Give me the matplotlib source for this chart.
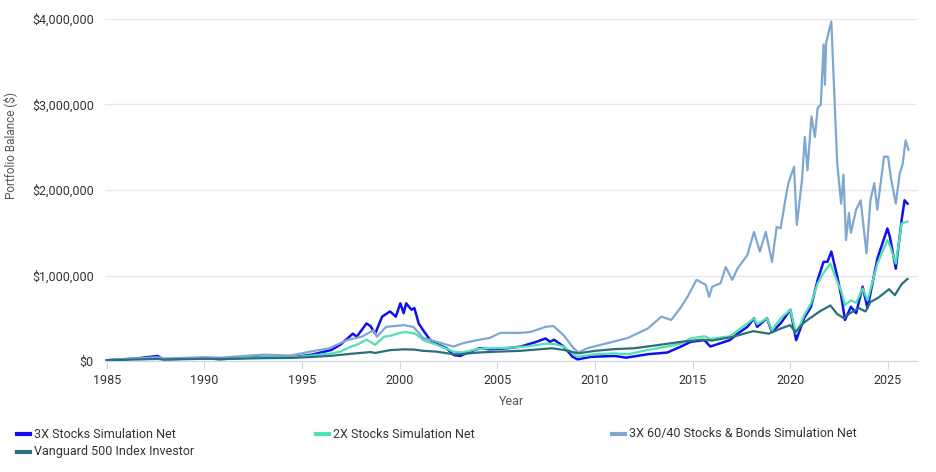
import matplotlib
matplotlib.use("Agg")
import matplotlib.pyplot as plt
from matplotlib.lines import Line2D
from matplotlib.ticker import FuncFormatter
import numpy as np

plt.rcParams['font.family'] = ['Roboto', 'DejaVu Sans']

# values in millions of dollars
x3_years = [1985.0, 1986.5, 1987.6, 1987.9, 1990.0, 1990.8, 1993.0, 1994.5, 1995.5, 1996.5,
            1996.95, 1997.6, 1997.8, 1998.3, 1998.5, 1998.74, 1999.1, 1999.5, 1999.8, 2000.03,
            2000.2, 2000.33, 2000.6, 2000.75, 2000.97, 2001.2, 2001.56, 2001.9, 2002.4, 2002.76,
            2003.1, 2003.6, 2004.1, 2004.6, 2005.5, 2006.2, 2007.0, 2007.46, 2007.7, 2007.9,
            2008.4, 2008.85, 2009.1, 2009.8, 2011.0, 2011.6, 2012.7, 2013.7, 2014.4, 2014.9,
            2015.6, 2015.9, 2016.3, 2016.9, 2017.3, 2017.8, 2018.14, 2018.3, 2018.8, 2019.06,
            2019.5, 2020.0, 2020.3, 2020.7, 2021.06, 2021.4, 2021.7, 2021.9, 2022.1, 2022.4,
            2022.6, 2022.8, 2023.1, 2023.37, 2023.7, 2023.95, 2024.46, 2024.97, 2025.1, 2025.4,
            2025.7, 2025.85, 2026.0]
x3_vals = [0.010, 0.03, 0.06, 0.02, 0.035, 0.022, 0.05, 0.045, 0.075, 0.13,
           0.19, 0.32, 0.285, 0.44, 0.41, 0.32, 0.52, 0.58, 0.52, 0.675,
           0.56, 0.675, 0.60, 0.62, 0.44, 0.36, 0.245, 0.20, 0.15, 0.07,
           0.06, 0.11, 0.15, 0.137, 0.15, 0.17, 0.225, 0.265, 0.225, 0.25,
           0.17, 0.05, 0.02, 0.05, 0.06, 0.04, 0.08, 0.10, 0.17, 0.225,
           0.245, 0.17, 0.20, 0.245, 0.32, 0.40, 0.50, 0.40, 0.50, 0.34,
           0.44, 0.60, 0.245, 0.50, 0.635, 0.95, 1.16, 1.16, 1.28, 0.99,
           0.77, 0.48, 0.635, 0.56, 0.87, 0.62, 1.20, 1.55, 1.45, 1.08,
           1.65, 1.88, 1.84]

x2_years = [1985.0, 1987.6, 1987.9, 1990.0, 1990.8, 1993.0, 1994.5, 1995.5, 1996.5, 1996.95,
            1997.5, 1997.8, 1998.3, 1998.74, 1999.2, 1999.6, 2000.0, 2000.3, 2000.8, 2001.2,
            2001.9, 2002.76, 2003.2, 2004.0, 2004.6, 2005.5, 2006.5, 2007.5, 2007.9, 2008.4,
            2009.1, 2010.0, 2011.0, 2011.7, 2012.7, 2013.7, 2014.4, 2014.9, 2015.6, 2015.9,
            2016.9, 2017.8, 2018.14, 2018.3, 2018.8, 2019.06, 2019.5, 2020.0, 2020.3, 2020.7,
            2021.06, 2021.4, 2021.7, 2022.05, 2022.4, 2022.6, 2022.8, 2023.1, 2023.37, 2023.7,
            2023.95, 2024.46, 2024.97, 2025.1, 2025.4, 2025.7, 2026.0]
x2_vals = [0.010, 0.04, 0.02, 0.03, 0.025, 0.045, 0.045, 0.065, 0.09, 0.11,
           0.17, 0.19, 0.25, 0.19, 0.285, 0.30, 0.33, 0.34, 0.32, 0.245,
           0.19, 0.11, 0.10, 0.14, 0.15, 0.155, 0.17, 0.205, 0.20, 0.17,
           0.05, 0.08, 0.09, 0.08, 0.13, 0.17, 0.205, 0.265, 0.29, 0.26,
           0.29, 0.44, 0.50, 0.43, 0.50, 0.36, 0.50, 0.60, 0.32, 0.53,
           0.675, 0.91, 1.03, 1.14, 0.93, 0.82, 0.655, 0.71, 0.68, 0.85,
           0.71, 1.14, 1.415, 1.35, 1.14, 1.61, 1.63]

sb_years = [1985.0, 1987.6, 1987.9, 1990.0, 1990.8, 1993.0, 1994.4, 1995.4, 1996.4, 1997.3,
            1998.06, 1998.66, 1998.83, 1999.3, 2000.2, 2000.7, 2001.2, 2001.9, 2002.75, 2003.25,
            2003.96, 2004.6, 2005.15, 2006.18, 2006.7, 2007.46, 2007.87, 2008.4, 2008.9, 2009.15,
            2009.6, 2010.64, 2011.67, 2012.7, 2013.4, 2013.9, 2014.4, 2014.73, 2015.2, 2015.67,
            2015.84, 2016.0, 2016.43, 2016.69, 2017.03, 2017.29, 2017.8, 2018.14, 2018.44, 2018.74,
            2019.06, 2019.3, 2019.5, 2019.77, 2019.9, 2020.19, 2020.33, 2020.6, 2020.74, 2020.88,
            2021.08, 2021.26, 2021.4, 2021.56, 2021.7, 2021.77, 2021.83, 2022.1, 2022.25, 2022.4,
            2022.6, 2022.72, 2022.85, 2023.0, 2023.1, 2023.37, 2023.6, 2023.9, 2024.1, 2024.3,
            2024.45, 2024.8, 2025.0, 2025.15, 2025.4, 2025.6, 2025.75, 2025.9, 2026.05]
sb_vals = [0.010, 0.045, 0.03, 0.045, 0.04, 0.075, 0.065, 0.11, 0.15, 0.245,
           0.285, 0.36, 0.285, 0.40, 0.42, 0.40, 0.27, 0.225, 0.17, 0.21,
           0.245, 0.27, 0.33, 0.33, 0.34, 0.40, 0.41, 0.30, 0.15, 0.10,
           0.15, 0.21, 0.27, 0.38, 0.52, 0.48, 0.63, 0.75, 0.95, 0.89,
           0.75, 0.87, 0.91, 1.10, 0.95, 1.08, 1.24, 1.51, 1.28, 1.51,
           1.16, 1.57, 1.55, 1.92, 2.08, 2.27, 1.59, 2.12, 2.62, 2.23,
           2.86, 2.62, 2.96, 3.00, 3.70, 3.23, 3.72, 3.97, 3.13, 2.31,
           1.84, 2.18, 1.415, 1.73, 1.50, 1.77, 1.88, 1.26, 1.88, 2.08,
           1.77, 2.39, 2.39, 2.14, 1.84, 2.19, 2.30, 2.58, 2.47]

vg_years = [1985.0, 1987.6, 1987.9, 1990.0, 1990.8, 1993.0, 1994.5, 1995.5, 1996.5, 1997.5,
            1998.5, 1998.75, 1999.5, 2000.2, 2000.7, 2001.2, 2001.9, 2002.75, 2003.1, 2004.0,
            2005.0, 2006.2, 2007.8, 2008.4, 2009.15, 2010.0, 2011.0, 2012.0, 2013.0, 2014.4,
            2015.5, 2016.0, 2017.0, 2018.1, 2018.9, 2019.5, 2020.0, 2020.25, 2020.7, 2021.0,
            2021.5, 2022.05, 2022.4, 2022.75, 2023.0, 2023.5, 2023.85, 2024.1, 2024.5, 2025.05,
            2025.35, 2025.7, 2026.0]
vg_vals = [0.010, 0.025, 0.018, 0.027, 0.024, 0.034, 0.037, 0.048, 0.062, 0.085,
           0.105, 0.095, 0.128, 0.137, 0.135, 0.12, 0.11, 0.08, 0.08, 0.10,
           0.11, 0.12, 0.15, 0.13, 0.09, 0.12, 0.14, 0.15, 0.18, 0.225,
           0.25, 0.24, 0.28, 0.35, 0.32, 0.38, 0.42, 0.34, 0.45, 0.50,
           0.58, 0.65, 0.55, 0.50, 0.55, 0.62, 0.58, 0.69, 0.74, 0.84,
           0.77, 0.90, 0.96]

labels = ["3X Stocks Simulation Net", "2X Stocks Simulation Net",
          "3X 60/40 Stocks & Bonds Simulation Net", "Vanguard 500 Index Investor"]
colors = ["#1010EE", "#4FE3AE", "#7FA8D0", "#2C6E7C"]
x_ticks = [1985, 1990, 1995, 2000, 2005, 2010, 2015, 2020, 2025]
y_ticks = [0, 1e6, 2e6, 3e6, 4e6]

series = [(x3_years, x3_vals), (x2_years, x2_vals), (sb_years, sb_vals), (vg_years, vg_vals)]

fig = plt.figure(figsize=(9.36, 4.72), dpi=100)
ax = fig.add_axes([0.112, 0.235, 0.868, 0.725])

for i, (yrs, vals) in enumerate(series):
    ax.plot(yrs, np.array(vals) * 1e6, color=colors[i], lw=1.8 if i == 0 else 1.6,
            zorder=2 + i, solid_joinstyle="round")

ax.set_xlim(1984.9, 2026.5)
ax.set_ylim(0, 4e6)
ax.set_xticks(x_ticks)
ax.set_yticks(y_ticks)
ax.yaxis.set_major_formatter(FuncFormatter(lambda v, p: "${:,.0f}".format(v)))
ax.grid(axis="y", color="#e6e6e6", lw=1)
ax.set_axisbelow(True)

for s in ["top", "right", "left"]:
    ax.spines[s].set_visible(False)
ax.spines["bottom"].set_color("#ccd6eb")
ax.tick_params(axis="y", length=0, labelsize=9, colors="#333333", pad=8)
ax.tick_params(axis="x", length=6, color="#ccd6eb", labelsize=9, labelcolor="#333333", pad=3)

ax.set_xlabel("Year", fontsize=9, color="#555555", labelpad=6)
ax.set_ylabel("Portfolio Balance ($)", fontsize=8.5, color="#555555")
ax.yaxis.set_label_coords(-0.108, 0.63)

# legend drawn by hand so columns sit where the reference has them
legend_pos = [(17, 434), (316, 434), (612, 434), (17, 452)]
W, H = 936.0, 472.0
for i, (px, py) in enumerate(legend_pos):
    yf = 1 - py / H
    fig.add_artist(Line2D([px / W, (px + 13) / W], [yf, yf], transform=fig.transFigure,
                          color=colors[i], lw=3))
    fig.text((px + 17) / W, yf, labels[i], fontsize=9, color="#333333", va="center")

fig.savefig("out.png", dpi=100)
